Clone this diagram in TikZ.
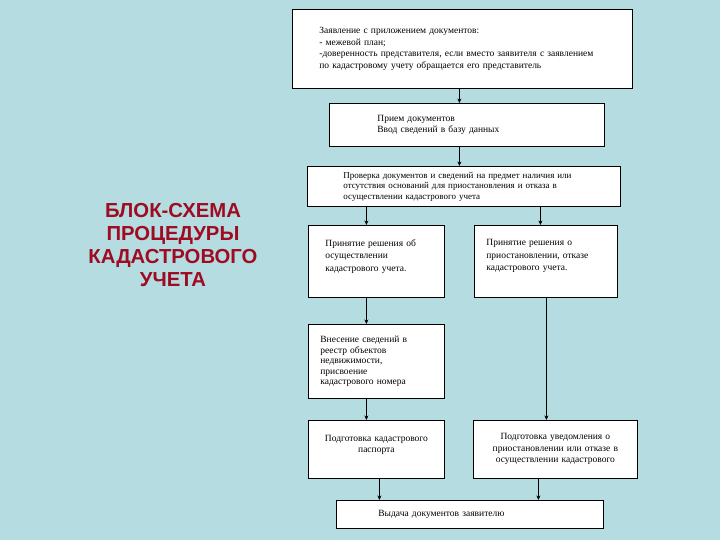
\documentclass[tikz,border=0pt]{standalone}
\usepackage{fontspec}
\setmainfont{Liberation Serif}
\newfontfamily\titlefont{Liberation Sans}
\usepackage{xcolor}
\usetikzlibrary{arrows.meta, positioning}

\definecolor{pagebg}{HTML}{B5DDE1}
\definecolor{titlered}{HTML}{9E0B22}

\begin{document}
\begin{tikzpicture}[
  x=1pt, y=-1pt,
  box/.style={
    rectangle, draw=black, line width=0.8pt, fill=white,
    anchor=north west, inner sep=0pt,
    font=\fontsize{9.5}{11.5}\selectfont},
  arr/.style={-{Stealth[length=4.5pt,width=4pt]}, line width=0.7pt, draw=black}
]

%% Page background
\fill[pagebg] (0,0) rectangle (720,540);
\useasboundingbox (0,0) rectangle (720,540);

%% Title
\node[font=\titlefont\bfseries\fontsize{20.3}{23.3}\selectfont,
      text=titlered, align=center] (title) at (173,245)
  {БЛОК-СХЕМА\\ПРОЦЕДУРЫ\\КАДАСТРОВОГО\\УЧЕТА};

%% Boxes
\node[box, minimum width=340pt, minimum height=79pt,
      text width=286pt, align=left, inner xsep=27pt] (appl) at (292,9)
  {Заявление с приложением документов:\\
   - межевой план;\\
   -доверенность представителя, если вместо заявителя с заявлением\\
   по кадастровому учету обращается его представитель};
\node[box, minimum width=275pt, minimum height=43pt,
      text width=179pt, align=left, inner xsep=48pt] (recv) at (329,103)
  {Прием документов\\Ввод сведений в базу данных};
\node[box, minimum width=313pt, minimum height=40pt,
      text width=241pt, align=left, inner xsep=36pt,
      font=\fontsize{9}{10.5}\selectfont] (check) at (307,166)
  {Проверка документов и сведений на предмет наличия или\\
   отсутствия оснований для приостановления и отказа в\\
   осуществлении кадастрового учета};
\node[box, minimum width=136pt, minimum height=72pt,
      text width=102pt, align=left, inner xsep=17pt,
      font=\fontsize{9.5}{12.5}\selectfont] (accept) at (308,225)
  {Принятие решения об\\осуществлении\\кадастрового учета.\\ \mbox{}};
\node[box, minimum width=143pt, minimum height=72pt,
      text width=119pt, align=left, inner xsep=12pt,
      font=\fontsize{9.5}{12.5}\selectfont] (deny) at (474,225)
  {Принятие решения о\\приостановлении, отказе\\кадастрового учета.\\ \mbox{}};
\node[box, minimum width=136pt, minimum height=74pt,
      text width=112pt, align=left, inner xsep=12pt,
      font=\fontsize{9.5}{10.5}\selectfont] (regist) at (308,324)
  {Внесение сведений в\\реестр объектов\\недвижимости,\\присвоение\\кадастрового номера};
\node[box, minimum width=136pt, minimum height=58pt,
      text width=130pt, align=center, inner xsep=3pt] (passp) at (308,420)
  {Подготовка кадастрового\\паспорта\\ \mbox{}};
\node[box, minimum width=164pt, minimum height=58pt,
      text width=156pt, align=center, inner xsep=4pt] (notice) at (473,420)
  {Подготовка уведомления о\\приостановлении или отказе в\\осуществлении кадастрового};
\node[box, minimum width=267pt, minimum height=28pt,
      text width=183pt, align=left, inner xsep=42pt] (issue) at (336,500)
  {Выдача документов заявителю};

%% Connectors
\draw[arr] ([xshift=-7.5pt]recv.north |- appl.south) -- ([xshift=-7.5pt]recv.north);
\draw[arr] ([xshift=-7.5pt]recv.south) -- ([xshift=-7.5pt]recv.south |- check.north);
\draw[arr] ([xshift=-10pt]accept.north |- check.south) -- ([xshift=-10pt]accept.north);
\draw[arr] ([xshift=-5.5pt]deny.north |- check.south) -- ([xshift=-5.5pt]deny.north);
\draw[arr] ([xshift=-10pt]accept.south) -- ([xshift=-10pt]accept.south |- regist.north);
\draw[arr] ([xshift=-10pt]regist.south) -- ([xshift=-10pt]regist.south |- passp.north);
\draw[arr] ([xshift=-9pt]notice.north |- deny.south) -- ([xshift=-9pt]notice.north);
\draw[arr] ([xshift=3pt]passp.south) -- ([xshift=3pt]passp.south |- issue.north);
\draw[arr] ([xshift=-17pt]notice.south) -- ([xshift=-17pt]notice.south |- issue.north);

\end{tikzpicture}
\end{document}
